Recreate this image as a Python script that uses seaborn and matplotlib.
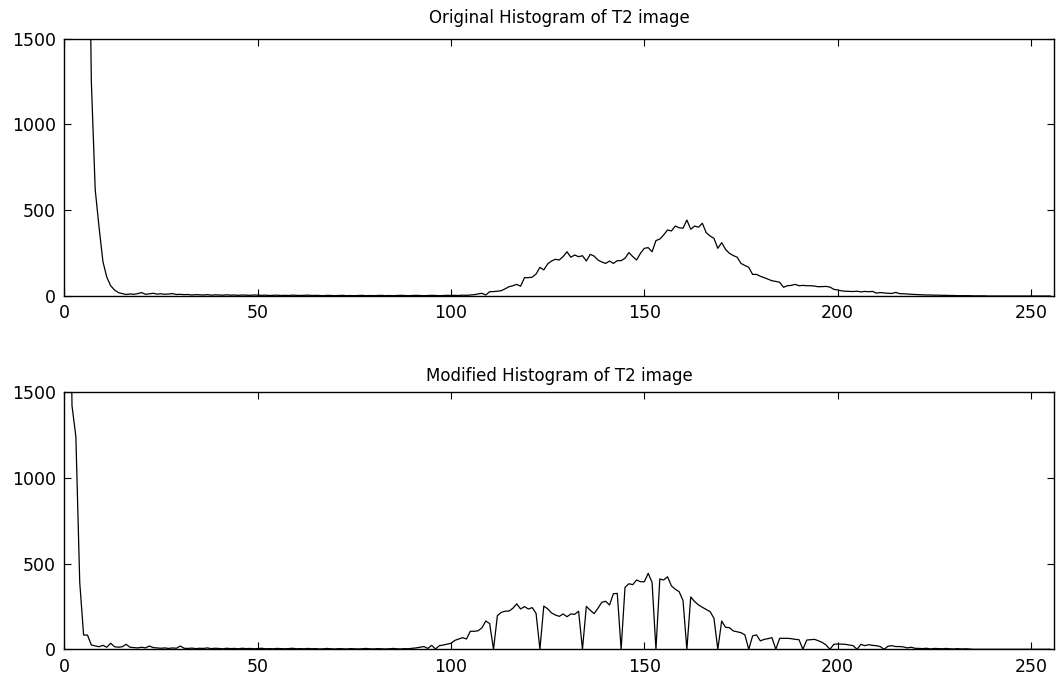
import numpy as np
import pandas as pd
import matplotlib
matplotlib.use("Agg")
import matplotlib.pyplot as plt
import seaborn as sns

# ---- data (grey level bins 0..255) ----
gray_levels = list(range(256))

original_counts = [
    30000, 20000, 12000, 8000, 5000, 3800, 3000, 1250, 620, 400, 200, 110, 60, 35, 20, 14,
    9, 12, 10, 14, 20, 10, 13, 16, 11, 13, 10, 12, 14, 9, 10, 8,
    9, 6, 8, 7, 6, 8, 5, 7, 6, 5, 7, 5, 6, 4, 6, 5,
    4, 6, 5, 4, 5, 3, 4, 5, 3, 4, 3, 5, 4, 3, 4, 5,
    3, 4, 3, 2, 4, 3, 2, 3, 4, 2, 3, 2, 3, 4, 2, 3,
    2, 3, 4, 2, 3, 2, 3, 4, 3, 2, 3, 4, 3, 2, 3, 4,
    3, 2, 3, 4, 3, 4, 3, 5, 4, 6, 8, 12, 16, 6, 25, 26,
    28, 31, 42, 54, 60, 68, 57, 107, 107, 110, 128, 167, 152, 187, 204, 214,
    210, 230, 258, 226, 239, 229, 235, 204, 243, 233, 210, 198, 190, 204, 190, 206,
    206, 220, 253, 230, 210, 249, 278, 282, 258, 323, 332, 356, 385, 379, 408, 398,
    395, 443, 389, 408, 401, 424, 369, 350, 336, 278, 311, 272, 249, 236, 226, 190,
    178, 167, 126, 126, 115, 107, 98, 89, 85, 80, 51, 60, 62, 68, 60, 62,
    60, 60, 58, 54, 55, 56, 52, 39, 35, 30, 28, 27, 26, 28, 24, 27,
    25, 27, 17, 20, 18, 16, 15, 21, 14, 13, 12, 10, 9, 8, 7, 6,
    6, 5, 5, 4, 4, 3, 3, 2, 2, 2, 2, 1, 1, 1, 1, 0,
    0, 0, 0, 0, 0, 0, 0, 0, 0, 0, 0, 0, 0, 0, 0, 0,
]

modified_counts = [
    9000, 3000, 1420, 1240, 390, 83, 83, 25, 20, 15, 23, 12, 35, 15, 12, 15,
    29, 12, 10, 8, 12, 8, 19, 10, 8, 6, 8, 5, 8, 6, 19, 6,
    5, 7, 4, 6, 5, 8, 4, 6, 5, 3, 6, 4, 5, 3, 6, 4,
    5, 3, 4, 6, 3, 4, 3, 5, 4, 3, 4, 6, 3, 4, 3, 5,
    3, 4, 2, 3, 5, 3, 2, 4, 3, 2, 4, 3, 2, 3, 5, 3,
    2, 4, 3, 2, 3, 5, 3, 2, 4, 3, 6, 8, 12, 16, 5, 23,
    2, 21, 25, 30, 35, 52, 60, 68, 60, 105, 105, 108, 125, 165, 150, 0,
    196, 215, 222, 223, 239, 265, 235, 249, 235, 243, 210, 0, 252, 236, 212, 200,
    192, 206, 190, 206, 204, 222, 0, 250, 228, 208, 239, 274, 280, 258, 324, 326,
    0, 361, 382, 377, 404, 394, 394, 443, 390, 0, 410, 404, 423, 370, 350, 336,
    285, 0, 305, 278, 259, 245, 232, 220, 181, 0, 165, 128, 126, 107, 102, 97,
    84, 0, 78, 84, 49, 58, 62, 68, 0, 64, 64, 64, 62, 58, 56, 0,
    54, 56, 58, 50, 40, 25, 0, 29, 31, 30, 29, 25, 21, 0, 29, 21,
    27, 23, 21, 16, 0, 18, 21, 16, 16, 14, 8, 12, 6, 5, 4, 6,
    2, 5, 4, 3, 5, 3, 2, 4, 2, 3, 2, 0, 0, 0, 0, 0,
    0, 0, 0, 0, 0, 0, 0, 0, 0, 0, 0, 0, 0, 0, 0, 0,
]

titles = ["Original Histogram of T2 image", "Modified Histogram of T2 image"]
x_ticks = [0, 50, 100, 150, 200, 250]
y_ticks = [0, 500, 1000, 1500]

# ---- style ----
sns.set_theme(style="white")
plt.rcParams["font.family"] = ["DejaVu Sans"]

fig = plt.figure(figsize=(10.57, 6.76), dpi=100)
ax1 = fig.add_axes([0.0608, 0.5621, 0.9366, 0.3807])
ax2 = fig.add_axes([0.0608, 0.0395, 0.9366, 0.3806])

for ax, counts, title, tpad in zip([ax1, ax2], [original_counts, modified_counts],
                                   titles, [11, 8]):
    df = pd.DataFrame({"level": gray_levels, "count": counts})
    sns.lineplot(data=df, x="level", y="count", ax=ax, color="black",
                 linewidth=0.9, errorbar=None)
    ax.set_xlim(0, 256)
    ax.set_ylim(0, 1500)
    ax.set_xticks(x_ticks)
    ax.set_yticks(y_ticks)
    ax.set_xlabel("")
    ax.set_ylabel("")
    ax.set_title(title, fontsize=12, pad=tpad, color="black")
    ax.tick_params(axis="both", which="both", direction="in", length=5,
                   width=0.8, colors="black", labelsize=12.5,
                   top=True, right=True, bottom=True, left=True)
    ax.tick_params(axis="x", pad=6)
    ax.tick_params(axis="y", pad=6)
    for sp in ax.spines.values():
        sp.set_visible(True)
        sp.set_color("black")
        sp.set_linewidth(1.0)
    ax.grid(False)
    ax.set_facecolor("white")

fig.savefig("out.png", dpi=100, facecolor="white")
